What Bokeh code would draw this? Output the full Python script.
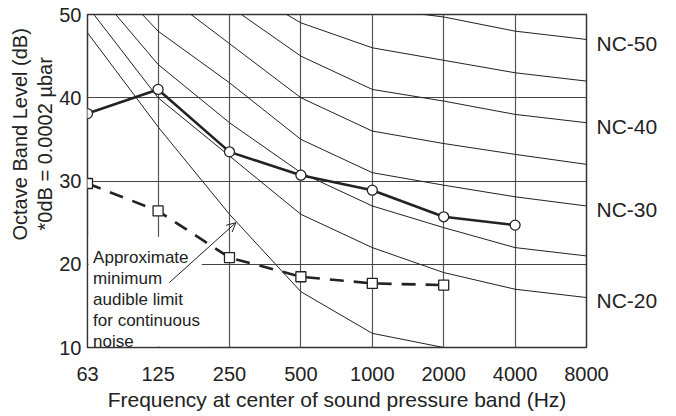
import math
from bokeh.plotting import figure
from bokeh.models import (Range1d, FixedTicker, Label, Arrow, OpenHead,
                          BoxAnnotation, LinearAxis, Title)
from bokeh.embed import file_html
from bokeh.resources import INLINE

# ---------------- data ----------------
freqs = [63, 125, 250, 500, 1000, 2000, 4000, 8000]
tick_labels = ["63", "125", "250", "500", "1000", "2000", "4000", "8000"]
y_ticks = [10, 20, 30, 40, 50]

# NC curves (octave band level, dB)
nc50 = [71, 64, 58, 54, 50.8, 49.7, 48, 47]
nc45 = [67, 60, 54, 49, 46, 44.5, 43, 42]
nc40 = [64, 56, 51, 45, 41, 39.6, 38, 37]
nc35 = [60, 53, 46.5, 40, 36, 34.5, 33.2, 32]
nc30 = [57, 48, 41.8, 35, 31, 29.5, 28.1, 27]
nc25 = [54, 44, 37, 31, 27, 24.4, 22, 21]
nc20 = [51, 40, 33, 26, 22, 19, 17, 16]
nc15 = [47.8, 36.5, 26, 16.7, 11.7, 10]

measured_freqs = [63, 125, 250, 500, 1000, 2000, 4000]
measured = [38.1, 41.0, 33.5, 30.7, 28.9, 25.7, 24.7]
threshold_freqs = [63, 125, 250, 500, 1000, 2000]
threshold = [29.7, 26.4, 20.8, 18.5, 17.7, 17.5]

nc_labels = ["NC-50", "NC-40", "NC-30", "NC-20"]
nc_label_y = [46.5, 36.5, 26.6, 15.6]

ann_lines = ["Approximate", "minimum", "audible limit", "for continuous", "noise"]
y_title_lines = ["Octave Band Level (dB)", "*0dB = 0.0002 \u00b5bar"]
x_title = "Frequency at center of sound pressure band (Hz)"

FONT = "Liberation Sans"
INK = "#222222"

# ---------------- figure ----------------
p = figure(width=676, height=416, x_axis_type="log",
           x_range=Range1d(63, 8000), y_range=Range1d(10, 50),
           output_backend="svg", toolbar_location=None,
           min_border_left=87, min_border_right=90,
           min_border_top=14, min_border_bottom=69)
p.background_fill_color = "white"
p.border_fill_color = "white"
p.outline_line_color = "#333333"
p.outline_line_width = 1.5

def style_axis(ax, size):
    ax.axis_line_color = None
    ax.major_tick_line_color = None
    ax.minor_tick_line_color = None
    ax.major_tick_out = 0
    ax.major_tick_in = 0
    ax.minor_tick_out = 0
    ax.major_label_text_font = FONT
    ax.major_label_text_color = INK
    ax.major_label_text_font_size = size

style_axis(p.xaxis[0], "20px")
style_axis(p.yaxis[0], "20px")

p.xaxis.ticker = FixedTicker(ticks=freqs)
p.xaxis.major_label_overrides = {f: t for f, t in zip(freqs, tick_labels)}
p.xaxis.major_label_standoff = 19
p.xaxis.axis_label = x_title
p.xaxis.axis_label_text_font = FONT
p.xaxis.axis_label_text_font_size = "21px"
p.xaxis.axis_label_text_font_style = "normal"
p.xaxis.axis_label_text_color = INK
p.xaxis.axis_label_standoff = 4

p.yaxis.ticker = FixedTicker(ticks=y_ticks)
p.yaxis.major_label_standoff = 6

# right axis carrying the NC labels
nc_axis = LinearAxis(ticker=FixedTicker(ticks=nc_label_y),
                     major_label_overrides={v: t for v, t in zip(nc_label_y, nc_labels)})
style_axis(nc_axis, "21px")
nc_axis.major_label_standoff = 10
p.add_layout(nc_axis, "right")

# y title: two rotated lines on the left, placed toward the top
t2 = Title(text=y_title_lines[1], align="left", offset=117, standoff=2,
           text_font=FONT, text_font_size="20px", text_font_style="normal",
           text_color=INK)
t1 = Title(text=y_title_lines[0], align="left", offset=107, standoff=0,
           text_font=FONT, text_font_size="20px", text_font_style="normal",
           text_color=INK)
p.add_layout(t2, "left")
p.add_layout(t1, "left")

# grid
p.xgrid.ticker = FixedTicker(ticks=freqs)
p.ygrid.ticker = FixedTicker(ticks=y_ticks)
p.xgrid.grid_line_color = "#555555"
p.ygrid.grid_line_color = "#444444"
p.xgrid.grid_line_width = 1.2
p.ygrid.grid_line_width = 1.2

# white panel behind the annotation text (hides the grid there)
p.add_layout(BoxAnnotation(left=63.7, right=191, bottom=10.15, top=23.3,
                           fill_color="white", fill_alpha=1.0,
                           line_color=None, level="underlay"))

# NC curves
for vals in (nc50, nc45, nc40, nc35, nc30, nc25, nc20):
    p.line(freqs, vals, line_color=INK, line_width=1)
p.line(freqs[:len(nc15)], nc15, line_color=INK, line_width=1)

# threshold (dashed, squares)
p.line(threshold_freqs, threshold, line_color=INK, line_width=2.6, line_dash="14 10")
p.scatter(threshold_freqs, threshold, marker="square", size=10,
          fill_color="white", line_color=INK, line_width=1.3)

# measured spectrum (solid, circles)
p.line(measured_freqs, measured, line_color=INK, line_width=2.6)
p.scatter(measured_freqs, measured, marker="circle", size=10,
          fill_color="white", line_color=INK, line_width=1.3)

# annotation text + arrow
for i, line in enumerate(ann_lines):
    p.add_layout(Label(x=5.6, y=90.2 - 21.1 * i, x_units="screen", y_units="screen",
                       text=line, text_font=FONT, text_font_size="17px",
                       text_color=INK, text_align="left", text_baseline="alphabetic"))
p.add_layout(Arrow(end=OpenHead(size=9, line_width=1, line_color=INK),
                   x_start=139.4, y_start=17.8, x_end=266, y_end=25.0,
                   line_width=1, line_color=INK))

open("out.html", "w").write(file_html(p, INLINE))
